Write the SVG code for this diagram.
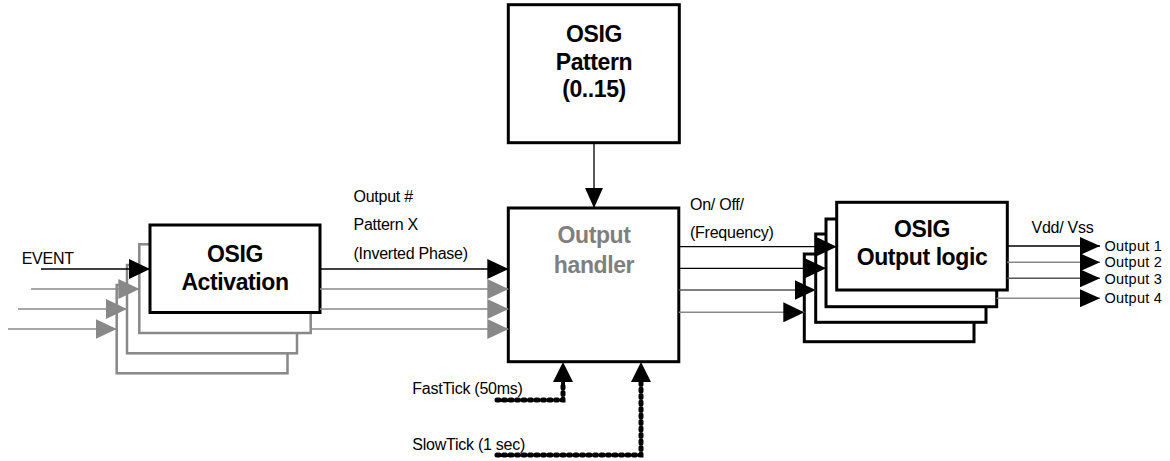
<svg xmlns="http://www.w3.org/2000/svg" width="1170" height="461" viewBox="0 0 1170 461">
<style>
.box{fill:#fff;stroke:#000;stroke-width:3}
.gbox{fill:#fff;stroke:#888;stroke-width:2.5}
.title{font-family:"Liberation Sans",Arial,sans-serif;font-weight:bold;font-size:23px;text-anchor:middle;fill:#000;letter-spacing:-0.4px}
.gtitle{fill:#7f7f7f}
.lbl{font-family:"Liberation Sans",Arial,sans-serif;font-size:16px;fill:#000;letter-spacing:-0.25px}
.ol{font-size:14.5px;letter-spacing:0.25px}
.ln{fill:none;stroke:#000;stroke-width:1.3}
.lg{fill:none;stroke:#888;stroke-width:1.6}
.ld{fill:none;stroke:#555;stroke-width:1.6}
.dot{fill:none;stroke:#000;stroke-width:5;stroke-dasharray:2 4.5;stroke-linecap:round}
</style>
<defs>
<marker id="ab" markerUnits="userSpaceOnUse" markerWidth="21" markerHeight="20" refX="21" refY="10" orient="auto" viewBox="0 0 21 20"><path d="M0,0 L21,10 L0,20 z" fill="#000"/></marker>
<marker id="ag" markerUnits="userSpaceOnUse" markerWidth="21" markerHeight="20" refX="21" refY="10" orient="auto" viewBox="0 0 21 20"><path d="M0,0 L21,10 L0,20 z" fill="#888"/></marker>
<marker id="as" markerUnits="userSpaceOnUse" markerWidth="20" markerHeight="18" refX="19" refY="8.5" orient="auto" viewBox="0 0 19 17"><path d="M0,0 L19,8.5 L0,17 z" fill="#000"/></marker>
<marker id="at" markerUnits="userSpaceOnUse" markerWidth="20" markerHeight="20" refX="0" refY="10" orient="auto" viewBox="0 0 20 20"><path d="M0,0 L20,10 L0,20 z" fill="#000"/></marker>
</defs>

<g id="activation">
<rect class="gbox" x="116.7" y="285" width="170.8" height="88.3"/>
<rect class="gbox" x="127" y="265" width="170" height="88.3"/>
<rect class="gbox" x="139.3" y="244.3" width="171.4" height="88.7"/>
<rect class="box" x="150" y="225" width="170" height="87.5"/>
<text class="title" x="235" y="262">OSIG</text>
<text class="title" x="235" y="290">Activation</text>
</g>

<g id="pattern">
<rect class="box" x="508.3" y="4.7" width="171" height="138"/>
<text class="title" x="594" y="42">OSIG</text>
<text class="title" x="594" y="70">Pattern</text>
<text class="title" x="594" y="96.5">(0..15)</text>
</g>

<g id="handler">
<rect class="box" x="508.3" y="208" width="170.5" height="153.7"/>
<text class="title gtitle" x="594" y="243">Output</text>
<text class="title gtitle" x="594" y="272.5">handler</text>
</g>

<g id="outputlogic">
<rect class="box" x="804.3" y="254" width="169.7" height="87.7"/>
<rect class="box" x="815.7" y="234" width="170.3" height="88.3"/>
<rect class="box" x="826" y="219" width="170.7" height="87.7"/>
<rect class="box" x="836.7" y="202.3" width="170.6" height="87.7"/>
<text class="title" x="922" y="236.5">OSIG</text>
<text class="title" x="922" y="265">Output logic</text>
</g>

<g id="connectors">
<path class="ln" d="M41,269 H150" marker-end="url(#ab)"/>
<path class="lg" d="M31,289 H139.3" marker-end="url(#ag)"/>
<path class="lg" d="M18,309 H127" marker-end="url(#ag)"/>
<path class="lg" d="M8,329 H116.7" marker-end="url(#ag)"/>

<path class="ln" d="M320,269 H508.3" marker-end="url(#ab)"/>
<path class="lg" d="M320,289 H508.3" marker-end="url(#ag)"/>
<path class="lg" d="M320,309 H508.3" marker-end="url(#ag)"/>
<path class="lg" d="M310.7,329 H508.3" marker-end="url(#ag)"/>

<path class="ln" d="M594,142.7 V208" marker-end="url(#as)"/>

<path class="ln" d="M678.8,246.7 H836.7" marker-end="url(#ab)"/>
<path class="ln" d="M678.8,268.3 H826" marker-end="url(#ab)"/>
<path class="ld" d="M678.8,290 H815.7" marker-end="url(#ab)"/>
<path class="lg" d="M678.8,312.3 H804.3" marker-end="url(#ab)"/>

<path class="ln" d="M1007.3,246 H1100" marker-end="url(#as)"/>
<path class="lg" d="M1007.3,262.3 H1100" marker-end="url(#as)"/>
<path class="ld" d="M1007.3,278.3 H1100" marker-end="url(#as)"/>
<path class="lg" d="M996.7,298.3 H1100" marker-end="url(#as)"/>

<path class="dot" d="M497,400 H563 V383"/>
<path d="M563,386 V382" stroke="#000" stroke-width="4" marker-end="url(#at)"/>
<path class="dot" d="M497,455 H641 V383"/>
<path d="M641,386 V382" stroke="#000" stroke-width="4" marker-end="url(#at)"/>
</g>

<g id="labels">
<text class="lbl" x="21.7" y="264">EVENT</text>
<text class="lbl" x="353.5" y="201.5">Output  #</text>
<text class="lbl" x="353.5" y="230">Pattern X</text>
<text class="lbl" x="353.5" y="258.5">(Inverted Phase)</text>
<text class="lbl" x="690" y="209.5">On/ Off/</text>
<text class="lbl" x="690" y="238">(Frequency)</text>
<text class="lbl" x="1031.5" y="233">Vdd/ Vss</text>
<text class="lbl ol" x="1104.5" y="251">Output  1</text>
<text class="lbl ol" x="1104.5" y="266.5">Output  2</text>
<text class="lbl ol" x="1104.5" y="284.3">Output  3</text>
<text class="lbl ol" x="1104.5" y="303.3">Output  4</text>
<text class="lbl" x="412.3" y="393.5">FastTick  (50ms)</text>
<text class="lbl" x="412.3" y="450">SlowTick (1 sec)</text>
</g>
</svg>
